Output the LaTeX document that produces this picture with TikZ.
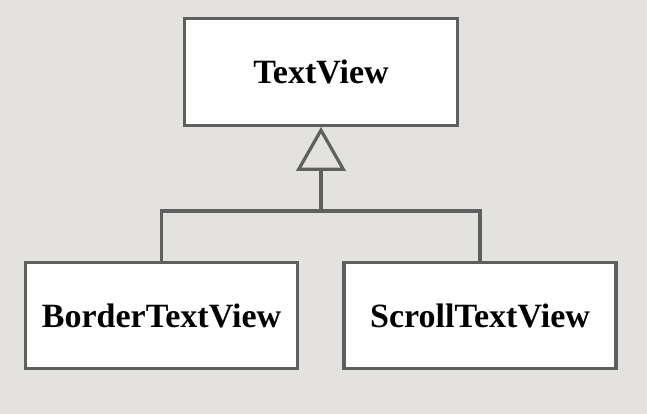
\documentclass[tikz,border=0pt]{standalone}
\usepackage{fontspec}
\setmainfont{Liberation Serif}
\usetikzlibrary{arrows.meta}
\definecolor{bggray}{HTML}{E3E2DF}
\definecolor{edgegray}{HTML}{5F5F5F}
\tikzset{
  classbox/.style={draw=edgegray, fill=white, line width=2.4pt,
    minimum width=204pt, minimum height=79pt, inner sep=0pt,
    font=\fontsize{25.5}{30}\selectfont\bfseries},
  inherit/.style={draw=edgegray, line width=2.4pt},
}
\begin{document}
\begin{tikzpicture}[x=0.75pt, y=-0.75pt]
  % background, fixes the margins
  \fill[bggray] (0, 0) rectangle (647, 414);
  \useasboundingbox (0, 0) rectangle (647, 414);
  % classes
  \node[classbox, minimum width=205pt, minimum height=80pt] (textview) at (321, 72) {TextView};
  \node[classbox] (borderview) at (161.5, 315.5) {BorderTextView};
  \node[classbox] (scrollview) at (480, 315.5) {ScrollTextView};
  % inheritance tree
  \coordinate (joint) at (321, 211);
  \draw[inherit] (borderview.north) |- (joint) -| (scrollview.north);
  \draw[inherit, -{Triangle[open, length=33pt, width=37pt]}] (joint) -- (textview.south);
\end{tikzpicture}
\end{document}
